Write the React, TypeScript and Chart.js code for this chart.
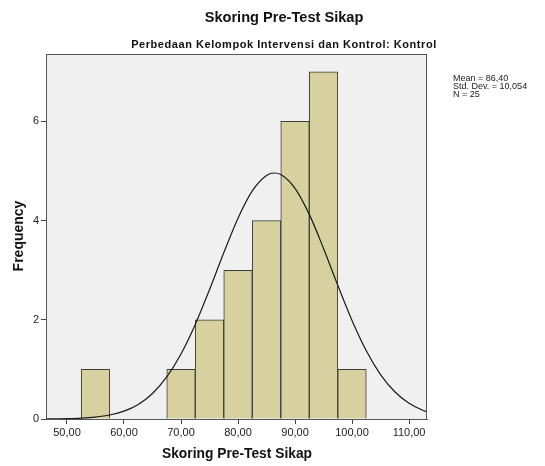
import React, { useEffect, useRef } from "react";
import { Chart, registerables } from "chart.js";

Chart.register(...registerables);

// Histogram bins (centers) and frequencies
const binCenters = [55, 60, 65, 70, 75, 80, 85, 90, 95, 100];
const frequencies = [1, 0, 0, 1, 2, 3, 4, 6, 7, 1];

// Normal curve
const curveX = [45, 47.5, 50, 52.5, 55, 57.5, 60, 62.5, 65, 67.5, 70, 72.5, 75, 77.5, 80, 82.5, 85, 86.4, 87.5, 90, 92.5, 95, 97.5, 100, 102.5, 105, 107.5, 110, 112.5, 115];
const curveY = [0.001, 0.003, 0.007, 0.017, 0.038, 0.08, 0.158, 0.294, 0.515, 0.848, 1.311, 1.907, 2.608, 3.352, 4.05, 4.6, 4.912, 4.96, 4.93, 4.652, 4.126, 3.44, 2.697, 1.987, 1.376, 0.896, 0.549, 0.316, 0.171, 0.087];

const xTicks = [50, 60, 70, 80, 90, 100, 110];
const yTicks = [0, 2, 4, 6];

const titleText = "Skoring Pre-Test Sikap";
const subtitleText = "Perbedaan Kelompok Intervensi dan Kontrol: Kontrol";
const xLabel = "Skoring Pre-Test Sikap";
const yLabel = "Frequency";
const statsLines = ["Mean = 86,40", "Std. Dev. = 10,054", "N = 25"];

const FONT = "'Liberation Sans', Arial, sans-serif";

const decorPlugin = {
  id: "decor",
  beforeDraw(chart: any) {
    const { ctx, chartArea } = chart;
    ctx.save();
    ctx.fillStyle = "#ffffff";
    ctx.fillRect(0, 0, chart.width, chart.height);
    ctx.fillStyle = "#f0f0f0";
    ctx.fillRect(chartArea.left, chartArea.top, chartArea.right - chartArea.left, chartArea.bottom - chartArea.top);
    ctx.restore();
  },
  afterDraw(chart: any) {
    const { ctx, chartArea } = chart;
    ctx.save();
    ctx.strokeStyle = "#555555";
    ctx.lineWidth = 1;
    ctx.strokeRect(chartArea.left + 0.5, chartArea.top + 0.5, chartArea.right - chartArea.left - 1, chartArea.bottom - chartArea.top);
    ctx.fillStyle = "#111111";
    ctx.textAlign = "center";
    ctx.textBaseline = "middle";
    ctx.font = `bold 14.6px ${FONT}`;
    ctx.fillText(titleText, 284, 18);
    ctx.font = `bold 11px ${FONT}`;
    (ctx as any).letterSpacing = "0.55px";
    ctx.fillText(subtitleText, 284, 45);
    (ctx as any).letterSpacing = "0px";
    ctx.font = `bold 13.8px ${FONT}`;
    ctx.fillText(xLabel, 237, 454);
    ctx.save();
    ctx.translate(19, 236);
    ctx.rotate(-Math.PI / 2);
    ctx.font = `bold 14px ${FONT}`;
    ctx.fillText(yLabel, 0, 0);
    ctx.restore();
    ctx.textAlign = "left";
    ctx.fillStyle = "#1a1a1a";
    ctx.font = `9px ${FONT}`;
    statsLines.forEach((s, i) => ctx.fillText(s, 453, 78.5 + i * 8.2));
    ctx.restore();
  },
};

export default function App() {
  const ref = useRef<HTMLCanvasElement>(null);
  useEffect(() => {
    if (!ref.current) return;
    const chart = new Chart(ref.current, {
      type: "bar",
      data: {
        datasets: [
          {
            type: "line",
            data: curveX.map((x, i) => ({ x, y: curveY[i] })),
            borderColor: "#1a1a1a",
            borderWidth: 1.2,
            pointRadius: 0,
            fill: false,
            cubicInterpolationMode: "monotone",
            order: 0,
          } as any,
          {
            type: "bar",
            data: binCenters.map((x, i) => ({ x, y: frequencies[i] })),
            backgroundColor: "#d6d19f",
            borderColor: "#3c3c3c",
            borderWidth: 1,
            barPercentage: 1,
            categoryPercentage: 1,
            order: 1,
          } as any,
        ],
      },
      options: {
        animation: false,
        responsive: false,
        maintainAspectRatio: false,
        layout: { padding: { left: 0, top: 54, right: 118, bottom: 17 } },
        plugins: { legend: { display: false }, tooltip: { enabled: false }, title: { display: false } },
        scales: {
          x: {
            type: "linear",
            offset: false,
            min: 46.32,
            max: 113.15,
            afterFit: (s: any) => { s.height = 30; },
            afterBuildTicks: (s: any) => { s.ticks = xTicks.map((v) => ({ value: v })); },
            grid: { display: true, offset: false, drawOnChartArea: false, drawTicks: true, tickLength: 5, color: "#444444" },
            border: { display: true, color: "#555555" },
            ticks: {
              color: "#222222",
              font: { family: FONT, size: 11 },
              padding: 2,
              maxRotation: 0,
              autoSkip: false,
              callback: (v: any) => Number(v).toFixed(2).replace(".", ","),
            },
          },
          y: {
            type: "linear",
            min: 0,
            max: 7.36,
            afterFit: (s: any) => { s.width = 46; },
            afterBuildTicks: (s: any) => { s.ticks = yTicks.map((v) => ({ value: v })); },
            grid: { display: true, drawOnChartArea: false, drawTicks: true, tickLength: 5, color: "#444444" },
            border: { display: true, color: "#555555" },
            ticks: {
              color: "#222222",
              font: { family: FONT, size: 11 },
              padding: 2,
              callback: (v: any) => String(v),
            },
          },
        },
      },
      plugins: [decorPlugin],
    });
    return () => chart.destroy();
  }, []);
  return (
    <div style={{ position: "fixed", left: 0, top: 0, width: 545, height: 466 }}>
      <canvas ref={ref} width={545} height={466} style={{ width: 545, height: 466 }} />
    </div>
  );
}
